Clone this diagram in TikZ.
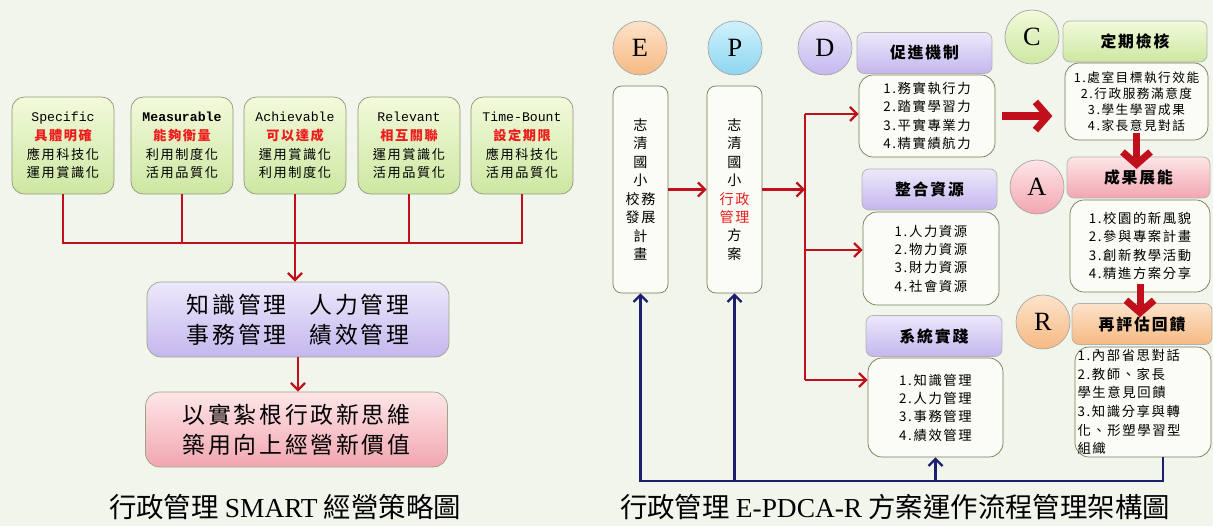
\documentclass[tikz,border=0pt]{standalone}
\usepackage{fontspec}
\setmainfont{Liberation Serif}
\newfontfamily\cjk[LetterSpace=12]{Noto Sans CJK TC}
\newfontfamily\cjkcap{Noto Sans CJK TC}
\newfontfamily\mono{Liberation Mono}
\usetikzlibrary{arrows.meta}
\definecolor{bg}{HTML}{F2F5EC}
\definecolor{lnred}{HTML}{C0101C}
\definecolor{lnblue}{HTML}{1C1F6E}
\definecolor{txtred}{HTML}{EE1C1C}
\definecolor{boxline}{HTML}{737A55}
\definecolor{cream}{HTML}{FBFCF5}
\definecolor{greenhi}{HTML}{F2FADB}
\definecolor{greenlo}{HTML}{CDE7A2}
\definecolor{purphi}{HTML}{EDE8FB}
\definecolor{purplo}{HTML}{C4B7EE}
\definecolor{pinkhi}{HTML}{FDE6E8}
\definecolor{pinklo}{HTML}{F2A6B0}
\definecolor{orangehi}{HTML}{FDE3CA}
\definecolor{orangelo}{HTML}{F6B983}
\definecolor{bluehi}{HTML}{CFF2FC}
\definecolor{bluelo}{HTML}{8ED5F0}

\begin{document}
\begin{tikzpicture}[x=0.02cm,y=-0.02cm,
redline/.style={draw=lnred,line width=1.3pt},
redarrow/.style={redline,-{Straight Barb[length=4pt,width=8pt]}},
bigarrow/.style={draw=lnred,line width=4pt,-{Straight Barb[length=7pt,width=16pt]}},
bluearrow/.style={draw=lnblue,line width=1.3pt,-{Straight Barb[length=4pt,width=8pt]}},
smartbox/.style={draw=boxline!80,rounded corners=7pt,top color=greenhi,bottom color=greenlo,
  minimum width=2.04cm,minimum height=1.94cm,align=center,inner sep=1pt,
  font=\cjk\fontsize{7.5}{10.6}\selectfont},
bigbox/.style={draw=boxline!70,rounded corners=8pt,minimum width=6.04cm,minimum height=1.5cm,
  align=center,font=\cjk\fontsize{13}{17}\selectfont},
circ/.style={circle,draw=gray!70,minimum size=1.08cm,inner sep=0pt,font=\fontsize{15}{15}\selectfont},
vbox/.style={draw=boxline,rounded corners=5pt,fill=cream,minimum width=1.1cm,minimum height=4.14cm,
  align=center,font=\cjk\fontsize{8}{10.5}\selectfont},
cbox/.style={draw=boxline,rounded corners=8pt,fill=cream,align=center,inner sep=1pt,
  font=\cjk\fontsize{7.6}{10.4}\selectfont},
hbox/.style={draw=gray!60,rounded corners=4pt,minimum height=0.82cm,
  font=\cjk\bfseries\fontsize{9}{9}\selectfont},
caption/.style={font=\cjkcap\fontsize{15.6}{17}\selectfont}
]
\useasboundingbox (0,0) rectangle (1213,526);
\fill[bg] (0,0) rectangle (1213,526);

% SMART
\node[smartbox] (s1) at (63,145.5) {{\mono Specific}\\{\color{txtred}\bfseries 具體明確}\\應用科技化\\運用賞識化};
\node[smartbox] (s2) at (182,145.5) {{\mono\bfseries Measurable}\\{\color{txtred}\bfseries 能夠衡量}\\利用制度化\\活用品質化};
\node[smartbox] (s3) at (295,145.5) {{\mono Achievable}\\{\color{txtred}\bfseries 可以達成}\\運用賞識化\\利用制度化};
\node[smartbox] (s4) at (409,145.5) {{\mono Relevant}\\{\color{txtred}\bfseries 相互關聯}\\運用賞識化\\活用品質化};
\node[smartbox] (s5) at (522,145.5) {{\mono Time-Bount}\\{\color{txtred}\bfseries 設定期限}\\應用科技化\\活用品質化};
\node[bigbox,top color=purphi,bottom color=purplo] (km) at (298,319.5) {知識管理\hspace{1em}人力管理\\事務管理\hspace{1em}績效管理};
\node[bigbox,top color=pinkhi,bottom color=pinklo] (nv) at (296.5,429.5) {以實紮根行政新思維\\築用向上經營新價值};
\node[caption] (cap1) at (285,507) {行政管理 {\rmfamily SMART} 經營策略圖};

\coordinate (bus) at (295,243);
\draw[redline] (s1.south) |- (bus) -| (s5.south);
\foreach \s in {s2,s3,s4} \draw[redline] (\s.south) -- (\s.south |- bus);
\draw[redarrow] (bus) -- (bus |- km.north);
\draw[redarrow] (km.south) -- (km.south |- nv.north);

% E-PDCA-R
\node[circ,top color=orangehi,bottom color=orangelo] (ce) at (640,48) {E};
\node[circ,top color=bluehi,bottom color=bluelo] (cp) at (735,48) {P};
\node[circ,top color=purphi,bottom color=purplo] (cd) at (825,48) {D};
\node[circ,top color=greenhi,bottom color=greenlo] (cc) at (1032,37) {C};
\node[circ,top color=pinkhi,bottom color=pinklo] (ca) at (1037,187) {A};
\node[circ,top color=orangehi,bottom color=orangelo] (cr) at (1043,322) {R};

\node[vbox] (ebox) at (640.5,189.5) {志\\清\\國\\小\\校務\\發展\\計\\畫};
\node[vbox] (pbox) at (734.5,189.5) {志\\清\\國\\小\\{\color{txtred}行政}\\{\color{txtred}管理}\\方\\案};

\node[hbox,minimum width=2.7cm,top color=purphi,bottom color=purplo] (dh1) at (924.5,53) {促進機制};
\node[cbox,minimum width=2.72cm,minimum height=1.64cm] (dc1) at (927,116) {1.務實執行力\\2.踏實學習力\\3.平實專業力\\4.精實績航力};
\node[hbox,minimum width=2.7cm,top color=purphi,bottom color=purplo] (dh2) at (929.5,189.5) {整合資源};
\node[cbox,minimum width=2.72cm,minimum height=1.86cm] (dc2) at (931,258.5) {1.人力資源\\2.物力資源\\3.財力資源\\4.社會資源};
\node[hbox,minimum width=2.72cm,top color=purphi,bottom color=purplo] (dh3) at (934,336) {系統實踐};
\node[cbox,minimum width=2.7cm,minimum height=1.98cm] (dc3) at (935.5,407.5) {1.知識管理\\2.人力管理\\3.事務管理\\4.績效管理};

\node[hbox,minimum width=2.88cm,top color=greenhi,bottom color=greenlo] (ch) at (1135,41.5) {定期檢核};
\node[cbox,minimum width=2.86cm,minimum height=1.54cm,font=\cjk\fontsize{7.2}{9.1}\selectfont] (kc) at (1136.5,101.5) {1.處室目標執行效能\\2.行政服務滿意度\\3.學生學習成果\\4.家長意見對話};
\node[hbox,minimum width=2.86cm,top color=pinkhi,bottom color=pinklo] (ah) at (1138.5,177.5) {成果展能};
\node[cbox,minimum width=2.8cm,minimum height=1.84cm] (ac) at (1140,246) {1.校園的新風貌\\2.參與專案計畫\\3.創新教學活動\\4.精進方案分享};
\node[hbox,minimum width=2.8cm,top color=orangehi,bottom color=orangelo] (rh) at (1142,324) {再評估回饋};
\node[cbox,minimum width=2.72cm,minimum height=2.2cm,align=left,text width=2.62cm,font=\cjk\fontsize{7.6}{10.6}\selectfont] (rc) at (1143,402) {1.內部省思對話\\2.教師、家長\\學生意見回饋\\3.知識分享與轉\\化、形塑學習型\\組織};
\node[caption] (cap2) at (895,507) {行政管理 {\rmfamily E-PDCA-R} 方案運作流程管理架構圖};

\coordinate (t1) at (805,114);
\coordinate (t2) at (805,250);
\coordinate (t3) at (805,380);
\draw[redarrow] (ebox.east) -- (pbox.west);
\draw[redarrow] (pbox.east) -- (pbox.east -| t1);
\draw[redline] (t1) -- (t3);
\draw[redarrow] (t1) -- (t1 -| dc1.west);
\draw[redarrow] (t2) -- (t2 -| dc2.west);
\draw[redarrow] (t3) -- (t3 -| dc3.west);
\draw[bigarrow,shorten <=4pt,shorten >=7pt] (dc1.east) -- (dc1.east -| kc.west);
\draw[bigarrow,shorten <=-4pt,shorten >=-7pt] (kc.south) -- (kc.south |- ah.north);
\draw[bigarrow,shorten <=-5pt,shorten >=-8pt] (ac.south) -- (ac.south |- rh.north);

\coordinate (fb) at (0,481);
\draw[bluearrow] ([xshift=0.4cm]rc.south) |- (fb -| ebox.south) -- (ebox.south);
\draw[bluearrow] (fb -| pbox.south) -- (pbox.south);
\draw[bluearrow] (fb -| dc3.south) -- (dc3.south);
\end{tikzpicture}
\end{document}
